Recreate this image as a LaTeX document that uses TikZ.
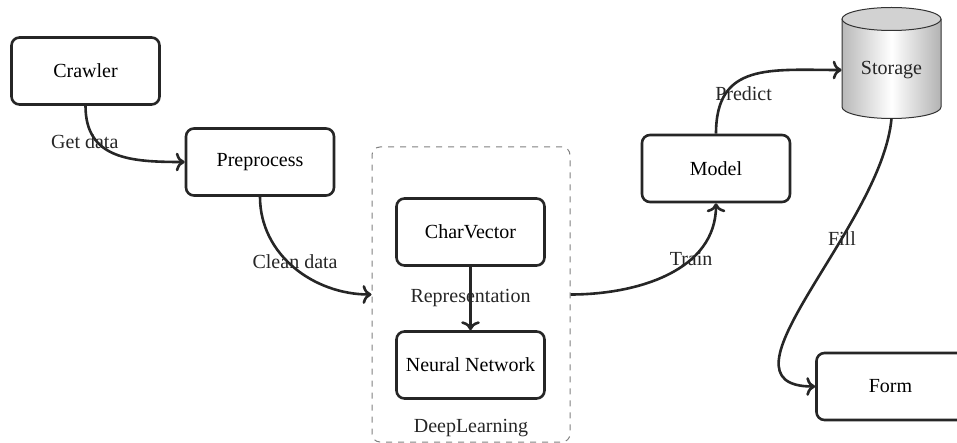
\documentclass[tikz,border=0pt]{standalone}
\usepackage{fontspec}
\setmainfont{Liberation Serif}
\usetikzlibrary{arrows.meta}
\begin{document}
\begin{tikzpicture}[x=0.5pt,y=-0.5pt,
  box/.style={draw=black!85, line width=1.3pt, rounded corners=4pt, minimum width=74pt, minimum height=33.5pt, inner sep=0pt, fill=white},
  conn/.style={draw=black!85, line width=1.3pt, ->},
  lbl/.style={inner sep=0pt, text=black!85},
  dlbox/.style={draw=gray, dashed, line width=0.5pt, rounded corners=4pt, minimum width=99pt, minimum height=147.5pt, inner sep=0pt},
  cylshade/.style={left color=gray!55, right color=gray!60, middle color=white},
  cylline/.style={draw=black!80, line width=0.5pt}
]
\useasboundingbox (0,0) rectangle (957,443);

% DeepLearning container
\node[dlbox] (dl) at (471,294.5) {};
\node[lbl] (dllabel) at (471,428) {DeepLearning};

% boxes
\node[box] (crawler) at (85.5,71) {Crawler};
\node[box] (preprocess) at (260,162) {Preprocess};
\node[box] (charvec) at (470.5,232) {CharVector};
\node[box] (nn) at (470.5,365) {Neural Network};
\node[box] (model) at (716,168.5) {Model};
\node[box] (form) at (890.5,386.5) {Form};

% storage cylinder
\shade[cylshade] (842,19) rectangle (941,107);
\shade[cylshade] (891.5,107) ellipse (49.5 and 11.5);
\draw[cylline] (842,19) -- (842,107) arc[start angle=180, end angle=0, x radius=49.5, y radius=11.5] -- (941,19);
\filldraw[cylline, fill=gray!35] (891.5,19) ellipse (49.5 and 11.5);
\node[lbl, minimum width=49.5pt, minimum height=48pt] (storage) at (891.5,70) {Storage};

% connectors
\draw[conn] (crawler.south) to[out=-90,in=180,looseness=1.2] node[lbl,pos=0.3,xshift=-6pt] {Get data} (preprocess.west);
\draw[conn] (preprocess.south) to[out=-90,in=180] node[lbl,pos=0.45,xshift=3.5pt] {Clean data} (dl.west);
\draw[conn] (charvec.south) -- node[lbl] {Representation} (nn.north);
\draw[conn] (dl.east) to[out=0,in=-90] node[lbl,pos=0.65] {Train} (model.south);
\draw[conn] (model.north) to[out=90,in=180,looseness=1.3] node[lbl,pos=0.25,xshift=9pt] {Predict} (storage.west);
\draw[conn] (storage.south) to[out=-95,in=180] node[lbl,pos=0.34] {Fill} (form.west);
\end{tikzpicture}
\end{document}
